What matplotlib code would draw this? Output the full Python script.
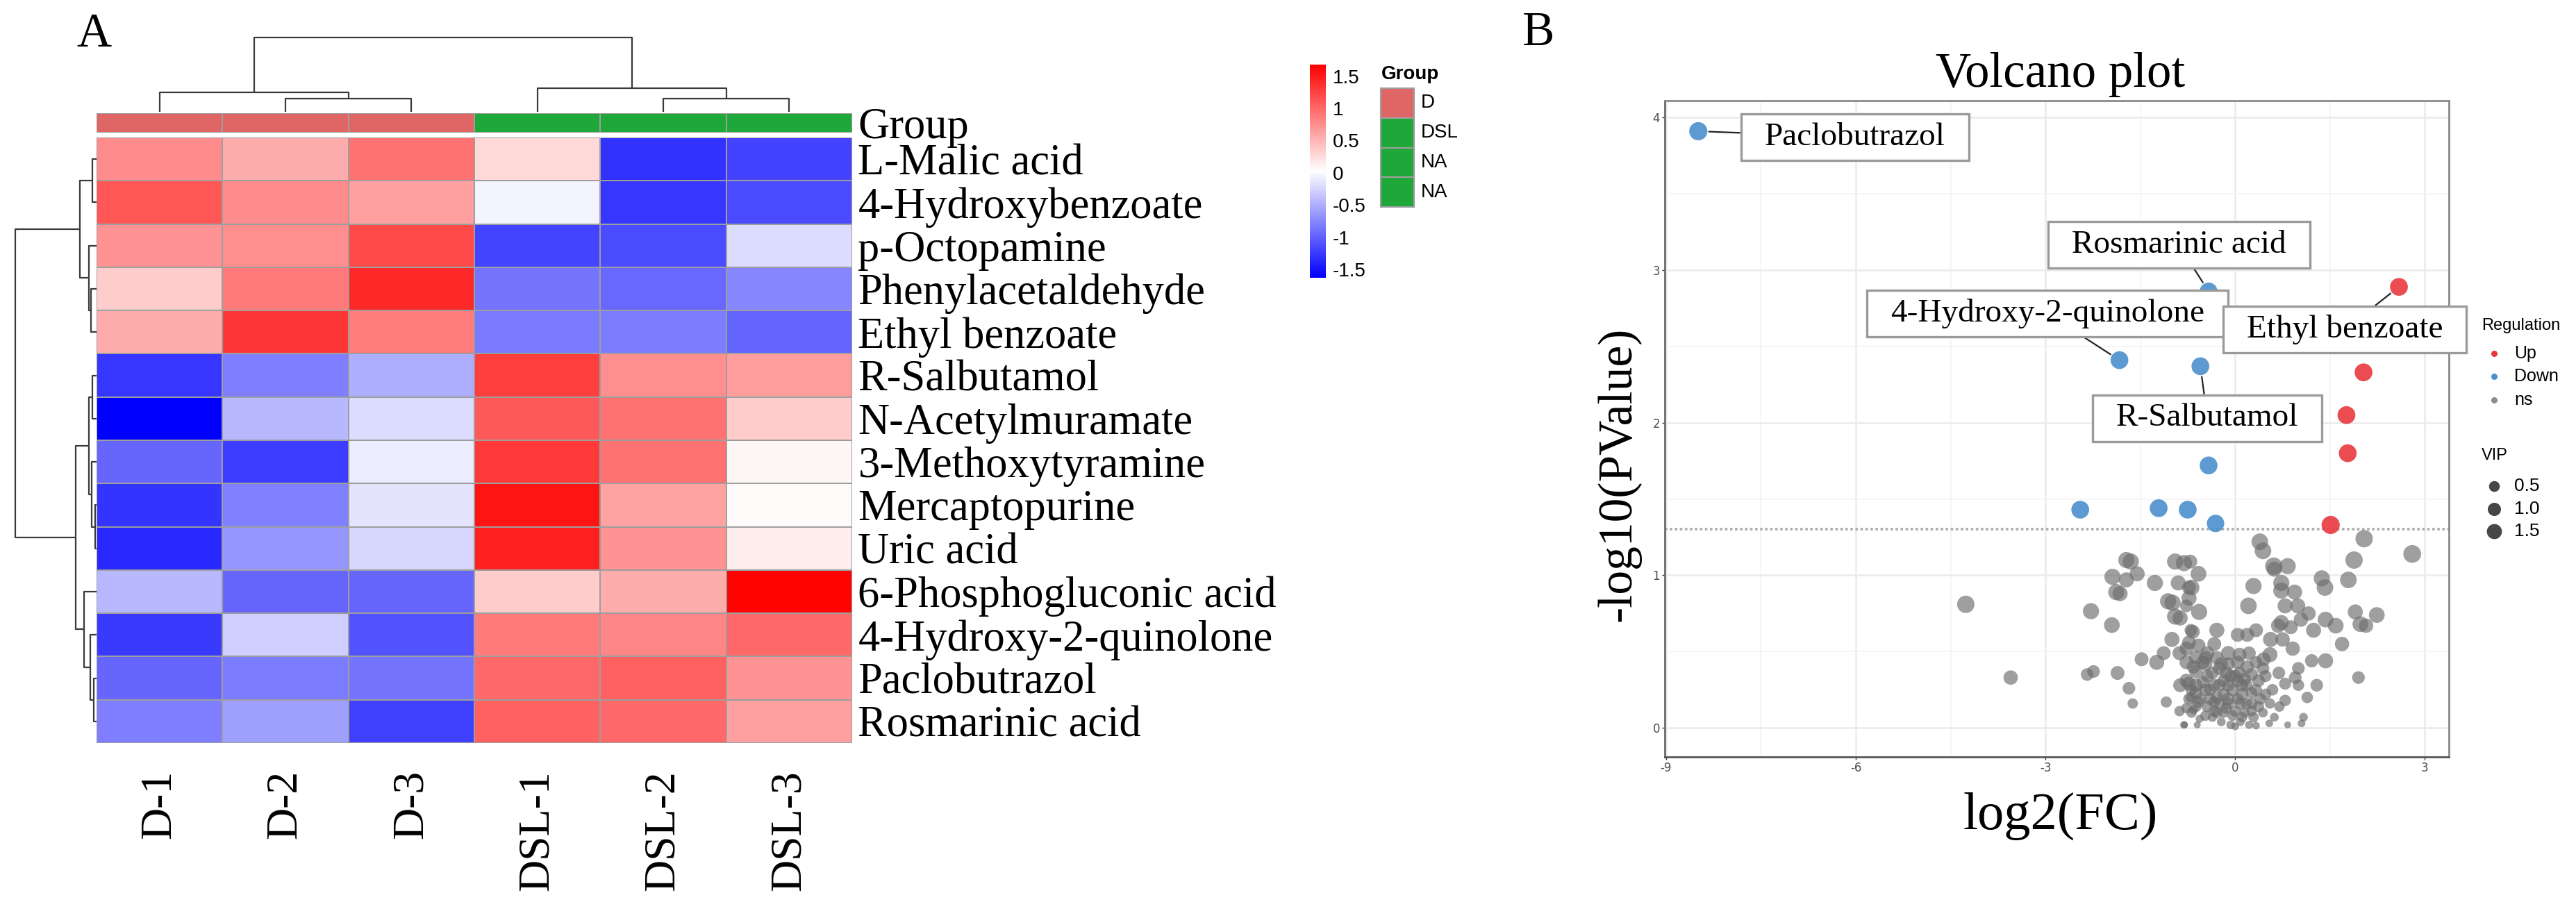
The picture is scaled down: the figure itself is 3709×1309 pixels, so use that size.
import numpy as np
import matplotlib
matplotlib.use("Agg")
import matplotlib.pyplot as plt
from matplotlib.colors import LinearSegmentedColormap, Normalize, ListedColormap
from matplotlib.patches import Rectangle
from matplotlib.path import Path
from matplotlib.cm import ScalarMappable
from matplotlib.ticker import FuncFormatter

plt.rcParams["axes.unicode_minus"] = False
SERIF = "Liberation Serif"
SANS = "Liberation Sans"

# ---------------- heatmap data ----------------
metabolites = ["L-Malic acid", "4-Hydroxybenzoate", "p-Octopamine", "Phenylacetaldehyde",
               "Ethyl benzoate", "R-Salbutamol", "N-Acetylmuramate", "3-Methoxytyramine",
               "Mercaptopurine", "Uric acid", "6-Phosphogluconic acid",
               "4-Hydroxy-2-quinolone", "Paclobutrazol", "Rosmarinic acid"]
samples = ["D-1", "D-2", "D-3", "DSL-1", "DSL-2", "DSL-3"]
sample_group = [0, 0, 0, 1, 1, 1]
z_scores = np.array([
    [0.77, 0.56, 0.94, 0.28, -1.30, -1.20],
    [1.12, 0.77, 0.64, -0.05, -1.27, -1.15],
    [0.73, 0.75, 1.20, -1.18, -1.13, -0.20],
    [0.35, 0.89, 1.41, -0.87, -0.95, -0.76],
    [0.56, 1.33, 0.87, -0.84, -0.82, -0.98],
    [-1.27, -0.81, -0.50, 1.27, 0.75, 0.67],
    [-1.63, -0.43, -0.20, 1.10, 0.94, 0.36],
    [-0.97, -1.23, -0.10, 1.31, 0.94, 0.08],
    [-1.29, -0.80, -0.15, 1.54, 0.63, 0.06],
    [-1.36, -0.65, -0.24, 1.47, 0.73, 0.15],
    [-0.43, -0.96, -0.97, 0.36, 0.56, 1.66],
    [-1.25, -0.29, -1.09, 0.89, 0.81, 1.00],
    [-0.96, -0.82, -0.88, 1.00, 1.05, 0.73],
    [-0.81, -0.59, -1.21, 1.05, 1.00, 0.64],
])
# hierarchical clustering merges: (node a, node b, height)
col_merges = [(1, 2, 19.5), (0, 6, 28), (4, 5, 19.5), (3, 8, 34), (7, 9, 107)]
row_merges = [(0, 1, 5.7), (3, 4, 8.3), (2, 15, 10.7), (14, 16, 24),
              (5, 6, 6.3), (8, 9, 2.3), (7, 19, 7), (18, 20, 11.3),
              (12, 13, 4), (11, 22, 9), (10, 23, 18), (21, 24, 29.7),
              (17, 25, 117.3)]
cbar_ticks = [1.5, 1, 0.5, 0, -0.5, -1, -1.5]
group_legend_labels = ["D", "DSL", "NA", "NA"]
group_legend_idx = [0, 1, 1, 1]
group_colors = ["#E06666", "#1FA83A"]

# ---------------- volcano data ----------------
down_fc = [-8.49, -0.42, -1.83, -0.55, -0.42, -2.45, -1.21, -0.75, -0.31]
down_p = [3.91, 2.86, 2.41, 2.37, 1.72, 1.43, 1.44, 1.43, 1.34]
down_vip = [1.7, 1.6, 1.6, 1.6, 1.6, 1.6, 1.6, 1.6, 1.5]
down_names = ["Paclobutrazol", "Rosmarinic acid", "4-Hydroxy-2-quinolone", "R-Salbutamol",
              "", "", "", "", ""]
up_fc = [2.59, 2.03, 1.76, 1.78, 1.51]
up_p = [2.89, 2.33, 2.05, 1.80, 1.33]
up_vip = [1.6, 1.6, 1.6, 1.6, 1.7]
up_names = ["Ethyl benzoate", "", "", "", ""]

ns_fc = [-4.26, -3.55, -2.28, -1.95, -1.72, -1.65, -1.55, -1.94, -1.72, -1.88, -1.82, -1.27,
         -0.95, -0.81, -0.71, -0.90, -0.73, -1.06, -0.99, -0.95, -0.87, -0.77, -1.00, -0.70,
         -0.73, -0.88, -1.13, -1.24, -1.48, -2.34, -2.24, -1.86, -1.68, -1.62, -1.09, -0.87,
         -0.73, -0.88, -0.77, -0.81, -0.66, -0.70,
         2.04, 2.80, 1.88, 1.79, 1.37, 1.42, 0.39, 0.44, 0.61, 0.83, 0.62, 0.29, 0.73, 0.73,
         0.94, 0.21, 0.79, 0.99, 1.16, 0.73, 0.88, 0.68, 1.04, 1.43, 1.59, 1.24, 1.90, 2.24,
         1.98, 2.07, 1.69, 0.75, 0.91, 1.21, 1.43, 1.95, 1.29, 1.14, 1.00, 0.95, 1.00, 0.79,
         0.69, 0.55, 0.45, 0.56, 0.33, 0.19, 0.04, 0.07, -0.29, -0.33, -0.67, -0.57, -0.58,
         -0.69, -0.73, 0.79, 1.08, 1.05, 0.83, 0.54, 0.62, -0.56, -0.60, -0.80,
         -0.77, -0.62, -0.47, -0.25, -0.11, 0.00, 0.15, 0.26, 0.37, 0.48, 0.59, -0.77, -0.62,
         -0.47, -0.33, -0.18, -0.04, 0.11, 0.26, 0.40, 0.55, 0.70, -0.73, -0.58, -0.44, -0.29,
         -0.14, 0.00, 0.15, 0.29, 0.44, -0.36, -0.22, -0.07, 0.08, 0.22, 0.33, 0.00, -0.47,
         -0.69, -0.11, 0.08, -0.29, -0.44, -0.62, -0.77, -0.58, -0.44, -0.11, 0.04, 0.19, 0.33,
         0.44, -0.14, 0.11, 0.26, -0.18, -0.33, -0.62, -0.51,
         -0.66, -0.51, -0.36, -0.22, -0.07, 0.07, -0.40, -0.25, -0.11, 0.04, 0.18, 0.33,
         -0.69, -0.55, -0.40, -0.25, -0.11, 0.04, 0.18, -0.18, -0.04, 0.11, -0.33, -0.62,
         0.37, 0.26, 0.48, -0.47, -0.29, 0.22]
ns_p = [0.81, 0.33, 0.765, 0.674, 1.10, 1.09, 1.01, 0.99, 0.97, 0.89, 0.88, 0.95,
        1.09, 1.08, 1.09, 0.95, 0.92, 0.83, 0.82, 0.73, 0.72, 0.80, 0.58, 0.64,
        0.56, 0.49, 0.49, 0.43, 0.45, 0.35, 0.37, 0.36, 0.26, 0.16, 0.17, 0.28,
        0.29, 0.11, 0.13, 0.02, 0.12, 0.20,
        1.24, 1.14, 1.10, 0.97, 0.98, 0.92, 1.22, 1.16, 1.06, 1.06, 1.04, 0.93, 0.95, 0.90,
        0.89, 0.80, 0.80, 0.80, 0.75, 0.69, 0.66, 0.67, 0.71, 0.71, 0.67, 0.64, 0.76, 0.74,
        0.68, 0.67, 0.55, 0.58, 0.52, 0.44, 0.44, 0.33, 0.28, 0.20, 0.39, 0.33, 0.28, 0.29,
        0.36, 0.48, 0.45, 0.58, 0.64, 0.61, 0.61, 0.48, 0.64, 0.55, 0.63, 0.76, 1.01,
        0.92, 0.85, 0.18, 0.07, 0.03, 0.02, 0.03, 0.07, 0.06, 0.02, 0.02,
        0.43, 0.46, 0.42, 0.39, 0.42, 0.34, 0.32, 0.35, 0.31, 0.34, 0.25, 0.31, 0.28,
        0.25, 0.28, 0.31, 0.25, 0.22, 0.23, 0.19, 0.16, 0.14, 0.19, 0.17, 0.14, 0.10,
        0.13, 0.11, 0.10, 0.07, 0.10, 0.07, 0.04, 0.02, 0.04, 0.02, 0.015, 0.01, 0.08,
        0.10, 0.19, 0.16, 0.20, 0.34, 0.37, 0.52, 0.54, 0.49, 0.49, 0.43, 0.40, 0.43,
        0.39, 0.36, 0.28, 0.16, 0.22, 0.17, 0.23, 0.30,
        0.40, 0.43, 0.36, 0.42, 0.34, 0.36, 0.25, 0.28, 0.28, 0.31, 0.28, 0.25,
        0.25, 0.19, 0.19, 0.16, 0.16, 0.19, 0.16, 0.10, 0.08, 0.07, 0.11, 0.14,
        0.14, 0.11, 0.22, 0.46, 0.46, 0.49]
ns_vip = [1.49, 0.82, 1.20, 1.10, 1.20, 1.20, 0.96, 1.20, 0.96, 1.20, 0.96, 1.20,
          1.20, 1.20, 0.73, 0.96, 0.73, 1.20, 1.20, 1.20, 0.96, 0.53, 0.96, 0.53,
          0.73, 0.73, 0.73, 0.96, 0.73, 0.53, 0.53, 0.73, 0.53, 0.24, 0.32, 0.73,
          0.73, 0.24, 0.24, 0.04, 0.13, 0.24,
          1.49, 1.60, 1.49, 1.30, 1.20, 1.30, 1.30, 1.30, 1.49, 1.20, 0.96, 1.20, 1.20, 1.20,
          0.96, 1.30, 0.96, 0.96, 0.82, 0.96, 0.73, 0.82, 0.82, 1.10, 1.10, 0.96, 0.96, 1.10,
          1.10, 0.82, 0.82, 0.82, 0.82, 0.64, 0.96, 0.53, 0.53, 0.37, 0.53, 0.53, 0.37, 0.43,
          0.53, 0.96, 0.73, 0.96, 0.73, 0.73, 0.73, 0.73, 0.96, 0.73, 0.73, 1.20, 1.10,
          1.10, 0.96, 0.37, 0.10, 0.04, 0.015, 0.04, 0.10, 0.06, 0.015, 0.015,
          0.73, 0.73, 0.73, 0.64, 0.64, 0.53, 0.53, 0.53, 0.53, 0.43, 0.37, 0.73, 0.64,
          0.53, 0.53, 0.53, 0.53, 0.53, 0.37, 0.37, 0.24, 0.24, 0.37, 0.37, 0.37, 0.32,
          0.32, 0.32, 0.24, 0.24, 0.17, 0.13, 0.10, 0.10, 0.10, 0.06, 0.04, 0.04, 0.24,
          0.24, 0.53, 0.43, 0.53, 0.53, 0.64, 0.73, 0.73, 0.73, 0.82, 0.64, 0.64, 0.53,
          0.53, 0.64, 0.53, 0.37, 0.43, 0.37, 0.53, 0.53,
          0.64, 0.64, 0.53, 0.64, 0.53, 0.53, 0.43, 0.53, 0.53, 0.53, 0.43, 0.43,
          0.43, 0.37, 0.37, 0.37, 0.37, 0.37, 0.32, 0.24, 0.24, 0.24, 0.32, 0.32,
          0.32, 0.24, 0.37, 0.64, 0.64, 0.64]
vip_legend = [0.5, 1.0, 1.5]
label_pos = {"Paclobutrazol": (-6.01, 3.87), "Rosmarinic acid": (-0.89, 3.165),
             "4-Hydroxy-2-quinolone": (-2.97, 2.715), "Ethyl benzoate": (1.73, 2.61),
             "R-Salbutamol": (-0.44, 2.03)}
p_cut = 0.05

# ---------------- figure ----------------
W, H = 3709, 1309
fig = plt.figure(figsize=(W / 100, H / 100), dpi=100)


def ax_at(l, t, r, b):
    return fig.add_axes([l / W, 1 - b / H, (r - l) / W, (b - t) / H])


def dendro_segments(merges, n):
    pos = {i: (i + 0.5, 0.0) for i in range(n)}
    segs = []
    for k, (a, b, h) in enumerate(merges):
        xa, ha = pos[a]
        xb, hb = pos[b]
        segs.append(([xa, xa, xb, xb], [ha, h, h, hb]))
        pos[n + k] = ((xa + xb) / 2, h)
    return segs


def label_box(x0, y0, width, height, mutation_size):
    padx = 0.72 * mutation_size
    pady = 0.26 * mutation_size
    xa, ya = x0 - padx, y0 - pady
    xb, yb = x0 + width + padx, y0 + height + pady
    return Path([(xa, ya), (xb, ya), (xb, yb), (xa, yb), (xa, ya)], closed=True)


cmap = LinearSegmentedColormap.from_list("bwr_p", ["#0000FF", "#FFFFFF", "#FF0000"])
norm = Normalize(vmin=-1.63, vmax=1.68)
GRID = "#9E9E9E"

# heatmap
ax_hm = ax_at(139, 198, 1227, 1070)
ax_hm.pcolormesh(z_scores, cmap=cmap, norm=norm, edgecolors=GRID, linewidth=1.3)
ax_hm.set_xlim(0, len(samples))
ax_hm.set_ylim(len(metabolites), 0)
for s in ax_hm.spines.values():
    s.set_visible(False)
ax_hm.yaxis.tick_right()
ax_hm.set_yticks(np.arange(len(metabolites)) + 0.5)
ax_hm.set_yticklabels(metabolites, fontsize=45, family=SERIF)
ax_hm.set_xticks(np.arange(len(samples)) + 0.5)
ax_hm.set_xticklabels(samples, fontsize=46, family=SERIF, rotation=90, va="top")
ax_hm.tick_params(length=0, pad=6)
ax_hm.tick_params(axis="x", pad=28)

# group annotation bar
ax_g = ax_at(139, 163, 1227, 191)
ax_g.pcolormesh(np.array([sample_group]), cmap=ListedColormap(group_colors),
                vmin=-0.5, vmax=1.5, edgecolors=GRID, linewidth=1.3)
ax_g.set_xlim(0, len(samples))
ax_g.set_ylim(1, 0)
for s in ax_g.spines.values():
    s.set_visible(False)
ax_g.set_xticks([])
ax_g.yaxis.tick_right()
ax_g.set_yticks([0.5])
ax_g.set_yticklabels(["Group"], fontsize=45, family=SERIF)
ax_g.tick_params(length=0, pad=6)

# column dendrogram
ax_cd = ax_at(139, 50, 1227, 161)
for xs, ys in dendro_segments(col_merges, len(samples)):
    ax_cd.plot(xs, ys, color="#3A3A3A", lw=1.6, solid_capstyle="butt")
ax_cd.set_xlim(0, len(samples))
ax_cd.set_ylim(0, 111)
ax_cd.axis("off")

# row dendrogram
ax_rd = ax_at(18, 198, 139, 1070)
for ys, xs in dendro_segments(row_merges, len(metabolites)):
    ax_rd.plot(xs, ys, color="#3A3A3A", lw=1.6, solid_capstyle="butt")
ax_rd.set_ylim(len(metabolites), 0)
ax_rd.set_xlim(121, 0)
ax_rd.axis("off")

# colorbar
cax = ax_at(1886, 93, 1909, 400)
cb = fig.colorbar(ScalarMappable(norm=norm, cmap=cmap), cax=cax, ticks=cbar_ticks)
cb.outline.set_visible(False)
cb.ax.yaxis.set_major_formatter(FuncFormatter(lambda v, p: "%g" % v))
cb.ax.tick_params(length=0, pad=7, labelsize=20)
for t in cb.ax.get_yticklabels():
    t.set_family(SANS)

# ---------------- volcano ----------------
def vip_size(v):
    d_px = 8.3 + 13.7 * np.sqrt(np.asarray(v, dtype=float))
    return (d_px * 0.72) ** 2


axv = ax_at(2397, 145, 3526, 1090)
axv.set_xlim(-9.02, 3.38)
axv.set_ylim(-0.19, 4.11)
axv.set_xticks([-9, -6, -3, 0, 3])
axv.set_xticks([-7.5, -4.5, -1.5, 1.5], minor=True)
axv.set_yticks([0, 1, 2, 3, 4])
axv.set_yticks([0.5, 1.5, 2.5, 3.5], minor=True)
axv.grid(which="major", color="#EBEBEB", lw=1.8)
axv.grid(which="minor", color="#F3F3F3", lw=1.1)
axv.set_axisbelow(True)
for s in axv.spines.values():
    s.set_color("#8A8A8A")
    s.set_linewidth(2.0)
axv.spines["bottom"].set_color("#555555")
axv.spines["left"].set_color("#6A6A6A")
axv.tick_params(which="major", length=3, width=1, color="#333333", labelsize=12,
                labelcolor="#4D4D4D", pad=2)
axv.tick_params(which="minor", length=0)
axv.axhline(-np.log10(p_cut), color="#ABABAB", lw=2.6, ls=(0, (1, 1)), zorder=1.5)

axv.scatter(ns_fc, ns_p, s=vip_size(ns_vip), color="#6E6E6E", alpha=0.66, lw=0, zorder=2)
axv.scatter(down_fc, down_p, s=vip_size(down_vip), color="#4A8FCC", alpha=0.9, lw=0, zorder=3)
axv.scatter(up_fc, up_p, s=vip_size(up_vip), color="#E8383F", alpha=0.9, lw=0, zorder=3)

for names, xs, ys in [(down_names, down_fc, down_p), (up_names, up_fc, up_p)]:
    for nm, x, y in zip(names, xs, ys):
        if nm:
            axv.annotate(nm, xy=(x, y), xytext=label_pos[nm], ha="center", va="center",
                         fontsize=34, family=SERIF, zorder=5,
                         bbox=dict(boxstyle=label_box, fc="white", ec="#9A9A9A", lw=2.4),
                         arrowprops=dict(arrowstyle="-", color="#222222", lw=1.6,
                                         shrinkA=0, shrinkB=11))

fig.text(2967 / W, 1 - 107 / H, "Volcano plot", fontsize=51, family=SERIF,
         ha="center", va="center")
fig.text(2967 / W, 1 - 1175 / H, "log2(FC)", fontsize=55, family=SERIF,
         ha="center", va="center")
fig.text(2331 / W, 1 - 683 / H, "-log10(PValue)", fontsize=50, family=SERIF,
         rotation=90, ha="center", va="center")
fig.text(135 / W, 1 - 50 / H, "A", fontsize=50, family=SERIF, ha="center", va="center")
fig.text(2215 / W, 1 - 48 / H, "B", fontsize=50, family=SERIF, ha="center", va="center")

# ---------------- legends (pixel overlay) ----------------
ov = fig.add_axes([0, 0, 1, 1], facecolor="none")
ov.set_xlim(0, W)
ov.set_ylim(H, 0)
ov.axis("off")

ov.text(1989, 107, "Group", fontsize=20, family=SANS, weight="bold", ha="left", va="center")
box_h = 42.75
for i, (lab, gi) in enumerate(zip(group_legend_labels, group_legend_idx)):
    y0 = 127 + i * box_h
    ov.add_patch(Rectangle((1988, y0), 48, box_h, fc=group_colors[gi], ec=GRID, lw=1.5))
    ov.text(2046, y0 + box_h / 2, lab, fontsize=20, family=SANS, ha="left", va="center")

ov.text(3573, 469, "Regulation", fontsize=17, family=SANS, ha="left", va="center")
reg_labels = ["Up", "Down", "ns"]
reg_colors = ["#E8383F", "#4A8FCC", "#8C8C8C"]
for lab, col, yy in zip(reg_labels, reg_colors, [509, 542, 576]):
    ov.scatter([3591], [yy], s=(9 * 0.72) ** 2, color=col, lw=0)
    ov.text(3620, yy, lab, fontsize=18, family=SANS, ha="left", va="center")
ov.text(3573, 656, "VIP", fontsize=17, family=SANS, ha="left", va="center")
for v, yy in zip(vip_legend, [700, 733, 765]):
    ov.scatter([3591], [yy], s=vip_size(v) * 0.75, color="#333333", alpha=0.9, lw=0)
    ov.text(3620, yy, "%.1f" % v, fontsize=19, family=SANS, ha="left", va="center")

fig.savefig("out.png", dpi=100, facecolor="white")
